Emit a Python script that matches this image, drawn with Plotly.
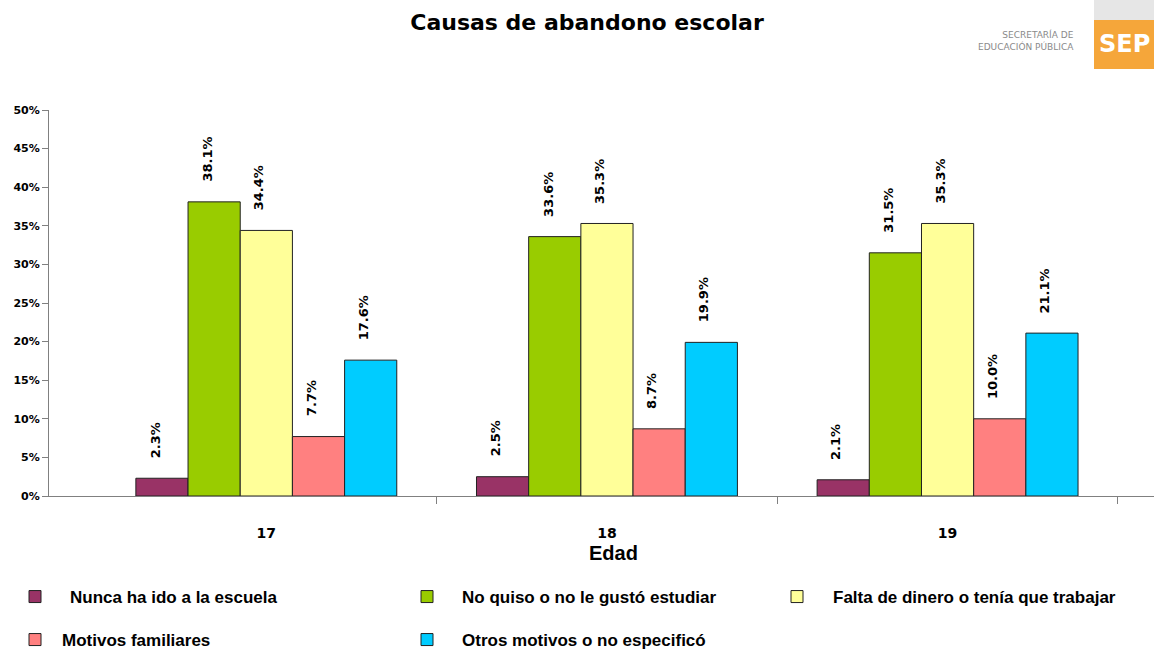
import plotly.graph_objects as go

# ---------------- data ----------------
categories = ["17", "18", "19"]
series_names = [
    "Nunca ha ido a la escuela",
    "No quiso o no le gustó estudiar",
    "Falta de dinero o tenía que trabajar",
    "Motivos familiares",
    "Otros motivos o no especificó",
]
nunca = [2.3, 2.5, 2.1]
no_quiso = [38.1, 33.6, 31.5]
falta = [34.4, 35.3, 35.3]
familiares = [7.7, 8.7, 10.0]
otros = [17.6, 19.9, 21.1]
y_ticks = list(range(0, 51, 5))
y_tick_labels = [f"{v}%" for v in y_ticks]

series_values = [nunca, no_quiso, falta, familiares, otros]
colors = ["#993366", "#99CC00", "#FFFF99", "#FF8080", "#00CCFF"]

# ---------------- layout constants ----------------
W, H = 1154, 652
L, R, T, B = 49, 0, 110, 156
VERD = "DejaVu Sans, Verdana, sans-serif"
NARROW = "Liberation Sans Narrow, Arial Narrow, Liberation Sans, sans-serif"


def px_x(px):
    return (px - L) / (W - L - R)


def px_y(py):
    return (H - B - py) / (H - T - B)


x_idx = list(range(len(categories)))
bargap = 0.234
n = len(series_values)
bw = (1 - bargap) / n

legend_ids = ["legend", "legend2", "legend3", "legend4", "legend5"]
# legend placement (marker centre x, row centre y) in pixels
legend_pos = [(35, 597), (427, 597), (797, 597), (35, 640), (427, 640)]
legend_itemwidth = [60, 60, 62, 44, 60]

fig = go.Figure()
for j, (name, vals, col) in enumerate(zip(series_names, series_values, colors)):
    fig.add_trace(
        go.Bar(
            x=x_idx,
            y=vals,
            name=name,
            marker=dict(color=col, line=dict(color="#222222", width=1)),
            legend=legend_ids[j],
        )
    )
    for i, v in enumerate(vals):
        fig.add_annotation(
            x=x_idx[i] + (j - (n - 1) / 2) * bw,
            y=v,
            xref="x",
            yref="y",
            text=f"{v:.1f}%",
            textangle=-90,
            showarrow=False,
            xanchor="center",
            yanchor="bottom",
            yshift=18,
            xshift=-7,
            font=dict(family=VERD, size=13, weight="bold", color="black"),
        )

# axis title "Edad"
fig.add_annotation(
    x=1, xref="x", y=px_y(553), yref="paper", text="Edad", showarrow=False,
    xanchor="center", yanchor="middle", xshift=7,
    font=dict(family=NARROW, size=20, weight="bold", color="black"),
)

# logo block (top right)
fig.add_shape(type="rect", xref="paper", yref="paper",
              x0=px_x(1094), x1=px_x(1160), y0=px_y(20), y1=px_y(-5),
              fillcolor="#E6E6E6", line=dict(width=0), layer="above")
fig.add_shape(type="rect", xref="paper", yref="paper",
              x0=px_x(1094), x1=px_x(1160), y0=px_y(69), y1=px_y(20),
              fillcolor="#F5A63A", line=dict(width=0), layer="above")
fig.add_annotation(
    x=px_x(1097), xref="paper", y=px_y(44), yref="paper", text="SEP",
    showarrow=False, xanchor="left", yanchor="middle",
    font=dict(family=VERD, size=24, weight="bold", color="white"),
)
fig.add_annotation(
    x=px_x(1076), xref="paper", y=px_y(40), yref="paper",
    text="SECRETARÍA DE<br>EDUCACIÓN PÚBLICA", align="right",
    showarrow=False, xanchor="right", yanchor="middle",
    font=dict(family=VERD, size=9, color="#8A8A8A"),
)

legends = {}
for lid, (mx, my), iw in zip(legend_ids, legend_pos, legend_itemwidth):
    legends[lid] = dict(
        orientation="v", xref="container", yref="container",
        x=max(0.0, (mx - 5 - iw / 2) / W), y=1 - my / H,
        xanchor="left", yanchor="middle", itemwidth=iw,
        font=dict(family=NARROW, size=17, weight="bold", color="black"),
        bgcolor="rgba(0,0,0,0)", borderwidth=0,
    )

fig.update_layout(
    width=W, height=H,
    margin=dict(l=L, r=R, t=T, b=B, pad=0, autoexpand=False),
    paper_bgcolor="white", plot_bgcolor="white",
    barmode="group", bargap=bargap, bargroupgap=0,
    title=dict(
        text="Causas de abandono escolar",
        x=587 / W, xref="container", xanchor="center",
        y=1 - 22 / H, yref="container", yanchor="middle",
        font=dict(family=VERD, size=22, weight="bold", color="black"),
    ),
    xaxis=dict(
        range=[-0.638, 2.606],
        tickvals=x_idx, ticktext=categories,
        ticks="", showline=True, linecolor="#808080", linewidth=1,
        ticklabelstandoff=24,
        tickfont=dict(family=VERD, size=14, weight="bold", color="black"),
        minor=dict(tickvals=[i + 0.5 for i in x_idx], ticks="outside",
                   ticklen=7, tickcolor="#808080", showgrid=False),
        showgrid=False, zeroline=False,
    ),
    yaxis=dict(
        range=[0, 50], tickvals=y_ticks, ticktext=y_tick_labels,
        ticks="outside", ticklen=6, tickcolor="#808080",
        showline=True, linecolor="#808080", linewidth=1,
        showgrid=False, zeroline=False,
        tickfont=dict(family=VERD, size=11, weight="bold", color="black"),
    ),
    showlegend=True,
    **legends,
)

fig.write_html(
    "out.html",
    config={"displayModeBar": False},
    post_script="document.body.style.margin='0px';",
)
